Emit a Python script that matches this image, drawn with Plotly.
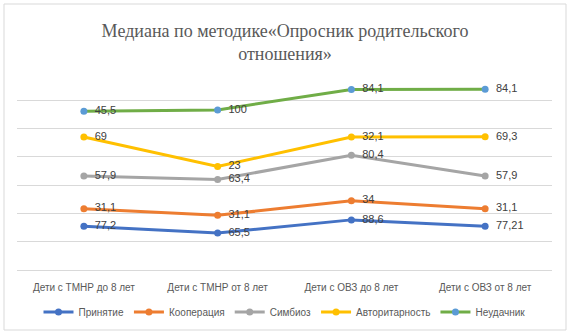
import plotly.graph_objects as go

categories = ["Дети с ТМНР до 8 лет", "Дети с ТМНР от 8 лет", "Дети с ОВЗ до 8 лет", "Дети с ОВЗ от 8 лет"]
series_names = ["Принятие", "Кооперация", "Симбиоз", "Авторитарность", "Неудачник"]
prinyatie = [77.2, 65.5, 88.6, 77.21]
kooperaciya = [31.1, 31.1, 34, 31.1]
simbioz = [57.9, 63.4, 80.4, 57.9]
avtoritarnost = [69, 23, 32.1, 69.3]
neudachnik = [45.5, 100, 84.1, 84.1]
values = [prinyatie, kooperaciya, simbioz, avtoritarnost, neudachnik]

line_colors = ["#4472C4", "#ED7D31", "#A5A5A5", "#FFC000", "#70AD47"]
marker_colors = ["#4472C4", "#ED7D31", "#A5A5A5", "#FFC000", "#5B9BD5"]

def fmt(v):
    return ("%g" % v).replace(".", ",")

fig = go.Figure()
for name, vals, lc, mc in zip(series_names, values, line_colors, marker_colors):
    fig.add_trace(go.Scatter(
        x=categories, y=vals, name=name, stackgroup="one", fill="none",
        mode="lines+markers+text",
        line=dict(color=lc, width=3),
        marker=dict(color=mc, size=7),
        text=[fmt(v) for v in vals],
        texttemplate="\u2002%{text}",
        textposition="middle right",
        textfont=dict(family="Liberation Sans, Arial", size=11, color="#404040"),
        cliponaxis=False,
    ))

fig.update_layout(
    width=570, height=336,
    margin=dict(l=17, r=18, t=72, b=66, autoexpand=False),
    paper_bgcolor="white", plot_bgcolor="white",
    title=dict(
        text="Медиана по методике«Опросник родительского<br>отношения»",
        x=0.5, xref="container", xanchor="center",
        y=1 - 37 / 336, yref="container", yanchor="middle",
        font=dict(family="Liberation Serif, Times New Roman", size=18, color="#595959"),
    ),
    showlegend=True,
    legend=dict(
        orientation="h", x=0.5, xanchor="center", y=(270 - 312) / 198, yanchor="middle",
        font=dict(family="Liberation Sans, Arial", size=10, color="#595959"),
        tracegroupgap=0,
    ),
    xaxis=dict(
        type="category", range=[-0.5, 3.5], showgrid=False, showline=False, zeroline=False,
        ticks="", ticklabelstandoff=10,
        tickfont=dict(family="Liberation Sans, Arial", size=10, color="#595959"),
    ),
    yaxis=dict(
        range=[0, 350], dtick=50, showgrid=True, gridcolor="#D9D9D9", gridwidth=1,
        zeroline=True, zerolinecolor="#D9D9D9", zerolinewidth=1,
        showticklabels=False, showline=False, ticks="",
    ),
    shapes=[dict(
        type="rect", xref="paper", yref="paper",
        x0=(4 - 17) / 535, x1=(566 - 17) / 535, y0=(270 - 330) / 198, y1=(270 - 4) / 198,
        line=dict(color="#D9D9D9", width=1), fillcolor="rgba(0,0,0,0)", layer="below",
    )],
)

fig.write_html(
    "out.html",
    config={"displayModeBar": False},
    post_script="document.body.style.margin='0px';document.body.style.overflow='hidden';",
)
